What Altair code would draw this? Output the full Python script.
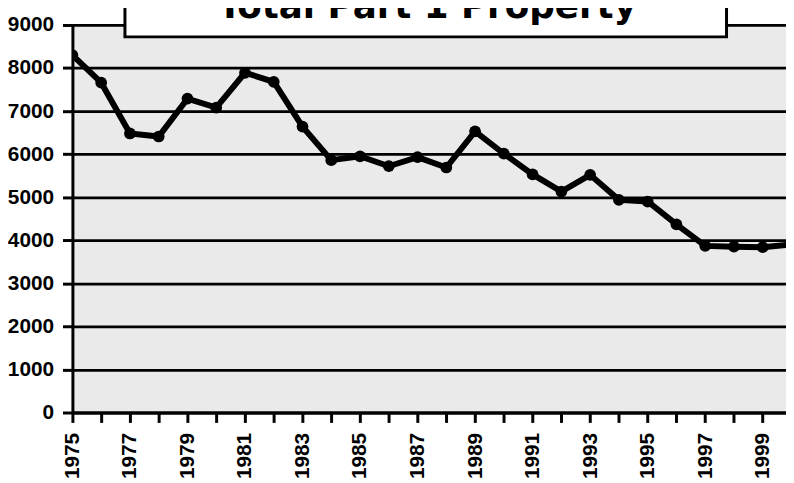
import altair as alt
import pandas as pd

years = list(range(1975, 2001))
values = [8300, 7660, 6480, 6410, 7290, 7080, 7890, 7680, 6640, 5860, 5950, 5720,
          5930, 5690, 6530, 6010, 5530, 5130, 5520, 4940, 4900, 4370, 3870, 3850,
          3840, 3900]
tick_years = list(range(1975, 2001))
y_ticks = list(range(0, 10000, 1000))
title_text = "Total Part 1 Property"

df = pd.DataFrame({"year": years, "value": values})

x = alt.X("year:Q", scale=alt.Scale(domain=[1975, 1999.81], nice=False, zero=False),
          axis=alt.Axis(values=tick_years, format="d",
                        labelExpr="datum.value % 2 == 1 ? datum.label : ''",
                        labelAngle=270, labelFontSize=21, labelFont="Liberation Sans",
                        labelFontWeight="bold", labelColor="black", labelPadding=10,
                        tickSize=10, tickWidth=3, tickColor="black",
                        domainColor="black", domainWidth=3, grid=False, title=None,
                        labelOverlap=False, labelFlush=False))
y = alt.Y("value:Q", scale=alt.Scale(domain=[0, 9000], nice=False),
          axis=alt.Axis(values=y_ticks, format="d", labelFontSize=21,
                        labelFont="Liberation Sans", labelFontWeight="bold",
                        labelColor="black", labelPadding=9, tickSize=10, tickWidth=3,
                        tickColor="black", domainColor="black", domainWidth=3,
                        grid=True, gridColor="black", gridWidth=2.8, gridOpacity=1,
                        title=None))

line = alt.Chart(df).mark_line(color="black", strokeWidth=6, clip=True).encode(x=x, y=y)
pts = alt.Chart(df).mark_circle(color="black", size=140, opacity=1, clip=True).encode(x=x, y=y)

tdf = pd.DataFrame({"t": [title_text]})
box = alt.Chart(tdf).mark_rect(fill="white", stroke="black", strokeWidth=3).encode(
    x=alt.value(53), x2=alt.value(660), y=alt.value(-40), y2=alt.value(12))
title = alt.Chart(tdf).mark_text(font="DejaVu Sans", fontWeight="bold", fontSize=36,
                                 color="black", align="center", baseline="alphabetic").encode(
    x=alt.value(358), y=alt.value(-7), text="t:N")

chart = alt.layer(line, pts, box, title).properties(
    width=720, height=391,
    autosize=alt.AutoSizeParams(type="none"),
    padding={"left": 65, "top": 15, "right": 0, "bottom": 69},
    background="white",
).configure_view(fill="#eaeaea", strokeWidth=0)

chart.save("out.html", embed_options={"renderer": "svg", "actions": False})
